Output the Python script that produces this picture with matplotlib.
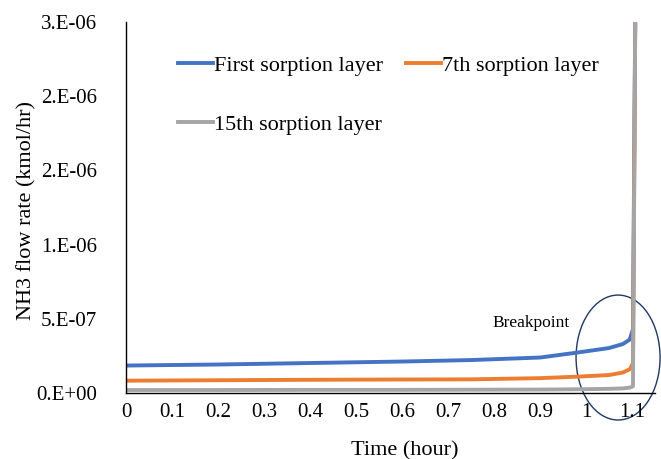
import matplotlib
matplotlib.use("Agg")
import matplotlib.pyplot as plt
from matplotlib.patches import Ellipse
from matplotlib.ticker import FixedLocator, FixedFormatter

plt.rcParams['font.family'] = ['Liberation Serif', 'DejaVu Serif']

## Data
time_h = [0.0, 0.2, 0.4, 0.6, 0.75, 0.9, 0.98, 1.05, 1.08, 1.095, 1.102, 1.108]
first_layer = [1.85e-7, 1.92e-7, 2.02e-7, 2.12e-7, 2.22e-7, 2.39e-7,
               2.72e-7, 3.03e-7, 3.3e-7, 3.6e-7, 4.3e-7, 3.0e-6]
seventh_layer = [8.3e-8, 8.6e-8, 8.9e-8, 9.1e-8, 9.2e-8, 1.0e-7,
                 1.1e-7, 1.21e-7, 1.38e-7, 1.6e-7, 2.0e-7, 3.0e-6]
fifteenth_layer = [2.0e-8, 2.0e-8, 2.1e-8, 2.1e-8, 2.2e-8, 2.3e-8,
                   2.5e-8, 2.8e-8, 3.1e-8, 3.6e-8, 4.5e-8, 3.0e-6]

x_ticks = [0, 0.1, 0.2, 0.3, 0.4, 0.5, 0.6, 0.7, 0.8, 0.9, 1, 1.1]
x_labels = ['0', '0.1', '0.2', '0.3', '0.4', '0.5', '0.6', '0.7', '0.8', '0.9', '1', '1.1']
y_ticks = [0, 5e-7, 1e-6, 1.5e-6, 2e-6, 2.5e-6]
y_labels = ['0.E+00', '5.E-07', '1.E-06', '2.E-06', '2.E-06', '3.E-06']

fig = plt.figure(figsize=(6.61, 4.59), dpi=100)
ax = fig.add_axes([0.1906, 0.1438, 0.8004, 0.8082])

l1, = ax.plot(time_h, first_layer, color='#4472C4', lw=2.8, label='First sorption layer')
l2, = ax.plot(time_h, seventh_layer, color='#ED7D31', lw=2.8, label='7th sorption layer')
l3, = ax.plot(time_h, fifteenth_layer, color='#A5A5A5', lw=2.8, label='15th sorption layer')

ax.set_xlim(0, 1.15)
ax.set_ylim(0, 2.5e-6)
ax.xaxis.set_major_locator(FixedLocator(x_ticks))
ax.xaxis.set_major_formatter(FixedFormatter(x_labels))
ax.yaxis.set_major_locator(FixedLocator(y_ticks))
ax.yaxis.set_major_formatter(FixedFormatter(y_labels))
ax.tick_params(axis='both', length=0, labelsize=15)
ax.tick_params(axis='y', pad=21)
ax.tick_params(axis='x', pad=7.5)

for side in ['top', 'right']:
    ax.spines[side].set_visible(False)
for side in ['left', 'bottom']:
    ax.spines[side].set_color('black')
    ax.spines[side].set_linewidth(1.0)

ax.set_xlabel('Time (hour)', fontsize=16)
ax.set_ylabel('NH3 flow rate (kmol/hr)', fontsize=16)
ax.xaxis.set_label_coords(0.526, -0.13)
ax.yaxis.set_label_coords(-0.17, 0.493)

# legend: first and 7th on the top row, 15th below
ax.legend(handles=[l1, l3, l2], ncol=2, frameon=False, fontsize=16,
          handlelength=1.6, handletextpad=0.05, columnspacing=1.0,
          labelspacing=1.75, loc='upper left', bbox_to_anchor=(0.06, 0.965))

# breakpoint marker
ax.add_patch(Ellipse((1.0696, 2.39e-7), 0.1826, 8.42e-7, fill=False,
                     edgecolor='#203864', lw=1.0, clip_on=False))
ax.text(0.796, 4.72e-7, 'Breakpoint', fontsize=12.5, ha='left', va='center')

fig.savefig('out.png', dpi=100)
